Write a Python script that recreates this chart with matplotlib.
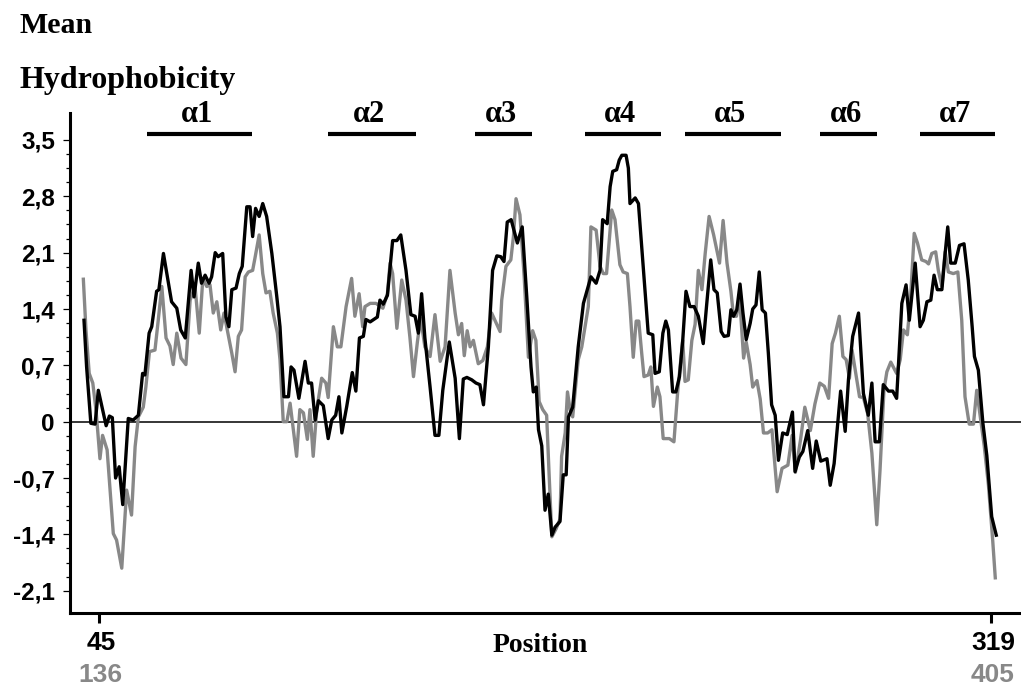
import matplotlib
matplotlib.use("Agg")
import matplotlib.pyplot as plt
import numpy as np

# mean hydrophobicity profiles, x in black-sequence numbering
black_pos = [40.4, 41.2, 42.5, 43.8, 44.8, 46.1, 47.2, 48.2, 49.1, 50.1, 51.2, 52.3, 54.0, 55.5,
             57.1, 58.4, 59.1, 60.4, 61.2, 62.7, 63.4, 64.8, 66.0, 67.3, 68.9, 70.1, 71.5, 73.3,
             74.2, 75.5, 76.5, 77.6, 78.8, 79.6, 80.7, 81.6, 83.0, 84.0, 84.9, 85.8, 87.1, 88.1,
             89.0, 90.4, 91.4, 92.2, 93.1, 94.2, 95.3, 96.5, 98.1, 99.6, 100.6, 101.8, 103.2,
             104.0, 104.9, 106.4, 108.3, 109.3, 110.3, 111.4, 112.4, 113.9, 115.4, 116.5, 117.7,
             118.7, 119.6, 121.1, 122.8, 123.9, 125.0, 126.2, 127.0, 128.3, 130.5, 131.3, 132.3,
             133.6, 135.2, 136.5, 137.7, 139.3, 140.8, 142.1, 143.1, 144.1, 145.1, 146.7, 148.2,
             149.4, 150.6, 152.6, 154.4, 155.7, 156.9, 158.0, 159.5, 160.8, 162.0, 163.1, 164.6,
             165.9, 167.2, 168.4, 169.4, 170.4, 171.6, 173.5, 175.0, 176.4, 177.7, 178.4, 179.3,
             180.0, 181.0, 182.0, 183.0, 184.1, 185.1, 186.6, 187.6, 188.5, 189.2, 190.5, 192.2,
             193.8, 196.1, 197.7, 198.9, 199.7, 201.1, 202.0, 202.8, 204.0, 204.8, 205.6, 206.9,
             207.6, 208.1, 209.7, 210.7, 212.4, 213.7, 215.1, 215.8, 217.1, 218.2, 219.1, 219.9,
             221.2, 222.2, 223.3, 224.3, 225.3, 226.5, 227.8, 229.1, 230.6, 231.6, 232.9, 233.9,
             234.9, 236.1, 237.0, 238.3, 239.1, 239.9, 240.9, 241.9, 242.8, 243.8, 245.0, 245.8,
             246.8, 247.8, 248.7, 249.7, 250.6, 251.6, 252.7, 253.7, 255.0, 256.4, 258.0, 258.8,
             260.1, 261.2, 262.7, 264.2, 265.3, 266.7, 268.6, 269.6, 270.8, 272.8, 274.2, 275.2,
             276.5, 278.3, 279.8, 281.3, 282.4, 283.4, 284.7, 285.9, 287.5, 288.8, 290.0, 291.6,
             292.9, 293.9, 295.7, 297.2, 298.2, 299.3, 300.5, 301.5, 302.5, 303.9, 304.9, 305.7,
             306.6, 308.0, 309.3, 310.7, 312.0, 313.2, 313.9, 315.1, 316.5, 317.7, 319.2, 320.6]
black_val = [1.26, 0.68, -0.02, -0.03, 0.39, 0.15, -0.05, 0.07, 0.05, -0.70, -0.56, -1.03, 0.04, 0.02,
             0.08, 0.60, 0.58, 1.10, 1.18, 1.62, 1.64, 2.09, 1.80, 1.49, 1.41, 1.14, 1.04, 1.88,
             1.55, 1.97, 1.72, 1.82, 1.72, 1.80, 2.10, 2.05, 2.09, 1.30, 1.18, 1.64, 1.66, 1.84,
             1.93, 2.67, 2.67, 2.30, 2.65, 2.55, 2.71, 2.55, 2.09, 1.56, 1.18, 0.31, 0.31,
             0.68, 0.64, 0.29, 0.75, 0.48, 0.48, 0.02, 0.26, 0.20, -0.21, 0.02, 0.08,
             0.31, -0.14, 0.19, 0.61, 0.38, 1.04, 1.06, 1.27, 1.24, 1.30, 1.51, 1.46,
             1.57, 2.25, 2.25, 2.32, 1.88, 1.33, 1.31, 1.10, 1.59, 1.04, 0.43, -0.17,
             -0.17, 0.39, 0.99, 0.54, -0.21, 0.53, 0.55, 0.52, 0.48, 0.46, 0.21, 0.93,
             1.88, 2.06, 2.05, 1.99, 2.48, 2.51, 2.22, 2.42, 1.55, 0.68, 0.37, 0.43,
             -0.10, -0.30, -1.10, -0.90, -1.41, -1.31, -1.24, -0.66, -0.66, 0.06, 0.18, 0.93,
             1.47, 1.80, 1.72, 1.88, 2.51, 2.46, 2.92, 3.11, 3.13, 3.25, 3.31, 3.31,
             3.15, 2.71, 2.78, 2.71, 1.80, 1.10, 1.08, 0.60, 0.62, 1.10, 1.25, 1.14,
             0.37, 0.37, 0.56, 1.01, 1.62, 1.43, 1.43, 1.31, 0.97, 1.43, 2.01, 1.64,
             1.60, 1.12, 1.06, 1.07, 1.39, 1.31, 1.39, 1.71, 1.35, 1.02, 1.22, 1.40,
             1.45, 1.86, 1.39, 1.35, 0.85, 0.21, 0.08, -0.48, -0.14, -0.16, 0.12, -0.62,
             -0.44, -0.37, -0.11, -0.58, -0.24, -0.49, -0.46, -0.79, -0.52, 0.38, -0.12, 0.52,
             1.06, 1.35, 0.35, 0.08, 0.48, -0.25, -0.25, 0.46, 0.38, 0.38, 0.29, 1.47,
             1.70, 1.26, 1.97, 1.18, 1.26, 1.49, 1.51, 1.82, 1.64, 1.64, 2.09, 2.42,
             1.97, 1.97, 2.19, 2.21, 1.76, 1.18, 0.81, 0.64, -0.02, -0.42, -1.18, -1.41]

gray_pos = [40.2, 41.0, 42.0, 43.1, 44.1, 45.3, 46.1, 47.5, 49.4, 50.4, 52.0, 53.5, 55.0, 56.1,
            57.1, 58.6, 59.4, 60.5, 62.2, 63.2, 64.3, 65.6, 66.8, 67.8, 68.9, 70.2, 71.7, 73.0,
            74.5, 75.8, 76.9, 78.1, 79.1, 80.1, 81.2, 82.4, 83.4, 84.4, 85.8, 86.8, 87.8, 88.8,
            89.9, 90.9, 92.2, 92.9, 94.2, 95.3, 96.3, 97.5, 98.5, 99.8, 100.6, 101.6, 102.7,
            103.7, 105.7, 106.7, 107.8, 109.0, 109.8, 110.8, 111.9, 113.4, 114.7, 115.4, 117.0,
            118.2, 119.3, 120.9, 122.6, 123.6, 124.9, 126.0, 126.7, 128.3, 130.1, 132.2, 133.6,
            134.4, 135.2, 136.5, 138.0, 139.3, 140.5, 141.6, 142.8, 143.8, 145.1, 146.7, 148.2,
            149.8, 151.3, 152.8, 154.4, 155.4, 156.4, 157.2, 158.1, 159.0, 160.0, 161.5, 162.9,
            164.3, 165.6, 168.2, 168.7, 170.0, 171.5, 172.3, 173.1, 174.3, 175.6, 176.9, 178.2,
            179.2, 180.2, 181.3, 182.5, 183.2, 184.1, 185.4, 186.6, 187.1, 188.2, 188.9, 189.7,
            190.5, 192.2, 193.3, 195.3, 196.1, 197.7, 198.9, 199.9, 200.9, 202.5, 203.5, 205.0,
            206.0, 207.3, 208.1, 209.1, 210.0, 210.8, 211.7, 212.4, 213.7, 214.5, 215.3, 216.5,
            217.3, 218.3, 220.2, 221.6, 222.8, 224.3, 225.0, 226.0, 227.1, 228.1, 229.1, 230.2,
            231.2, 232.4, 233.8, 235.6, 236.7, 237.9, 239.1, 239.9, 240.8, 241.8, 243.0, 243.8,
            245.0, 245.8, 247.1, 248.1, 249.1, 250.4, 251.7, 253.3, 254.8, 256.6, 257.9, 258.9,
            260.5, 261.8, 263.5, 264.9, 266.4, 267.8, 269.1, 270.2, 271.2, 272.4, 273.5, 274.5,
            275.5, 276.3, 277.3, 278.6, 279.8, 281.1, 282.4, 283.9, 284.9, 286.1, 287.0, 288.2,
            290.0, 291.1, 292.1, 293.3, 294.3, 295.4, 296.4, 297.7, 299.0, 299.8, 300.8, 302.0,
            302.8, 303.9, 304.9, 305.9, 307.4, 308.8, 310.0, 311.0, 312.3, 313.6, 314.6, 315.4,
            316.9, 318.2, 319.5, 320.3]
gray_val = [1.77, 1.14, 0.60, 0.48, 0.14, -0.46, -0.17, -0.35, -1.39, -1.47, -1.82, -0.85, -1.16, -0.31,
            0.06, 0.18, 0.43, 0.87, 0.89, 1.26, 1.68, 1.04, 0.94, 0.71, 1.10, 0.79, 0.71, 1.51,
            1.68, 1.10, 1.78, 1.68, 1.70, 1.35, 1.49, 1.14, 1.35, 1.14, 0.85, 0.62, 1.06, 1.14,
            1.80, 1.86, 1.88, 2.03, 2.32, 1.84, 1.60, 1.62, 1.35, 1.10, 0.77, 0.00, 0.00,
            0.23, -0.43, 0.15, 0.11, -0.22, 0.15, -0.43, 0.15, 0.54, 0.48, 0.30, 1.18,
            0.93, 0.93, 1.43, 1.78, 1.31, 1.59, 1.18, 1.43, 1.47, 1.47, 1.41, 1.59,
            1.97, 1.84, 1.16, 1.76, 1.51, 1.05, 0.56, 0.99, 1.29, 0.93, 0.81, 1.33,
            0.75, 0.93, 1.88, 1.35, 1.08, 1.22, 0.82, 1.13, 0.93, 1.01, 0.72, 0.76,
            0.93, 1.35, 1.12, 1.51, 1.93, 2.01, 2.30, 2.77, 2.57, 1.80, 0.80, 1.13,
            1.01, 0.25, 0.15, 0.08, -0.60, -1.43, -1.33, -1.21, -0.43, -0.14, 0.37, 0.15,
            0.06, 0.77, 0.93, 1.43, 2.42, 2.38, 1.93, 1.84, 1.84, 2.63, 2.51, 1.95,
            1.86, 1.84, 1.43, 0.80, 1.25, 1.25, 0.85, 0.56, 0.58, 0.68, 0.19, 0.43,
            0.31, -0.21, -0.21, -0.25, 0.40, 1.01, 0.50, 0.52, 1.01, 1.21, 1.88, 1.64,
            2.09, 2.55, 2.32, 1.97, 2.50, 1.97, 1.62, 1.31, 1.31, 1.53, 0.79, 0.99,
            0.71, 0.43, 0.51, 0.28, -0.14, -0.14, -0.10, -0.87, -0.58, -0.54, -0.17, -0.63,
            -0.22, 0.18, -0.11, 0.22, 0.48, 0.44, 0.29, 0.97, 1.10, 1.31, 0.81, 0.77,
            0.54, 0.89, 0.64, 0.31, 0.30, 0.10, -0.39, -1.28, -0.60, 0.39, 0.62, 0.74,
            0.60, 0.77, 1.14, 1.08, 1.55, 2.34, 2.22, 2.01, 1.99, 1.96, 2.09, 2.11,
            1.88, 1.68, 2.11, 1.86, 1.84, 1.86, 1.26, 0.31, -0.03, -0.03, 0.39, 0.15,
            -0.30, -0.79, -1.47, -1.94]

# helix segments (start, end) in black numbering
helix_names = ["α1", "α2", "α3", "α4", "α5", "α6", "α7"]
helix_start = [59.7, 115.4, 160.5, 194.3, 225.0, 266.5, 297.2]
helix_end = [92.0, 142.3, 178.1, 217.6, 254.5, 284.1, 320.3]

yticks = [-2.1, -1.4, -0.7, 0, 0.7, 1.4, 2.1, 2.8, 3.5]
ytick_labels = ["-2,1", "-1,4", "-0,7", "0", "0,7", "1,4", "2,1", "2,8", "3,5"]
xticks = [45, 319]
xtick_black = ["45", "319"]
xtick_gray = ["136", "405"]

GRAY = "#888888"
W, H = 1021, 686

fig = plt.figure(figsize=(W / 100, H / 100), dpi=100)
ax = fig.add_axes([70 / W, 1 - 612.7 / H, 951 / W, (612.7 - 113) / H])
ax.set_xlim(36.1, 328.2)
ax.set_ylim(-2.373, 3.835)

for s in ["top", "right"]:
    ax.spines[s].set_visible(False)
for s in ["left", "bottom"]:
    ax.spines[s].set_linewidth(2.2)

ax.axhline(0, color="black", lw=1.1, zorder=1)
ax.plot(black_pos, black_val, color="black", lw=2.4, zorder=3)
ax.plot(gray_pos, gray_val, color=GRAY, lw=2.4, zorder=2)

# y axis
ax.set_yticks(yticks)
ax.set_yticklabels(ytick_labels, fontfamily="Liberation Sans", fontweight="bold", fontsize=17.5)
ax.set_yticks(np.arange(-2.1, 3.51, 0.175), minor=True)
ax.tick_params(axis="y", which="major", length=4.8, width=0.9, pad=6)
ax.tick_params(axis="y", which="minor", length=2.9, width=0.9)

# x axis: two numbering rows
ax.set_xticks(xticks)
ax.set_xticklabels([])
ax.tick_params(axis="x", which="major", length=7.2, width=2.2)
tr = ax.get_xaxis_transform()
for x, lb, lg in zip(xticks, xtick_black, xtick_gray):
    ax.text(x + 0.6, -37.5 / 499.7, lb, transform=tr, ha="center", va="baseline",
            fontfamily="Liberation Sans", fontweight="bold", fontsize=19, color="black")
    ax.text(x + 0.6, -69.5 / 499.7, lg, transform=tr, ha="center", va="baseline",
            fontfamily="Liberation Sans", fontweight="bold", fontsize=19, color=GRAY)

ax.text(0.494, -39.5 / 499.7, "Position", transform=ax.transAxes, ha="center", va="baseline",
        fontfamily="Liberation Serif", fontweight="bold", fontsize=20)

# helix bars and labels
for name, a, b in zip(helix_names, helix_start, helix_end):
    ax.plot([a, b], [3.578, 3.578], color="black", lw=3, solid_capstyle="butt", clip_on=False)
    ax.text((a + b) / 2 - 0.8, 3.72, name, ha="center", va="baseline",
            fontfamily="Liberation Serif", fontweight="bold", fontsize=22)

fig.text(19 / W, 1 - 33 / H, "Mean", ha="left", va="baseline",
         fontfamily="Liberation Serif", fontweight="bold", fontsize=21.5)
fig.text(19 / W, 1 - 88 / H, "Hydrophobicity", ha="left", va="baseline",
         fontfamily="Liberation Serif", fontweight="bold", fontsize=23)

fig.savefig("out.png", dpi=100)
